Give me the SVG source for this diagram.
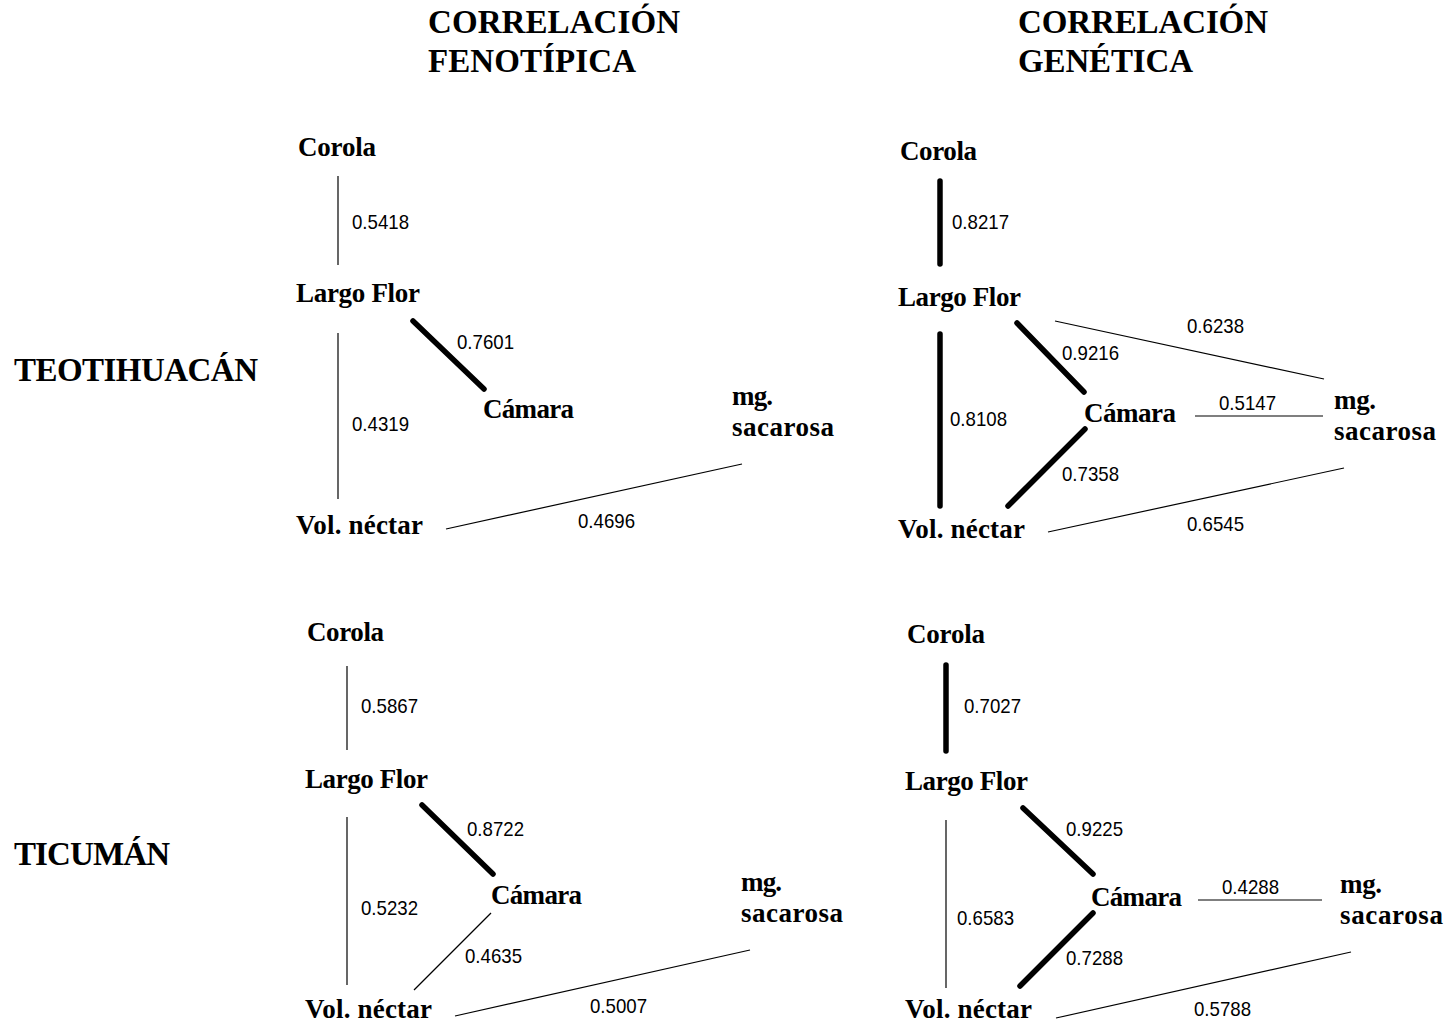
<svg xmlns="http://www.w3.org/2000/svg" width="1449" height="1024" viewBox="0 0 1449 1024">
<style>
.t{font-family:"Liberation Serif","Times New Roman",serif;font-weight:bold;font-size:33px;fill:#000}
.l{font-family:"Liberation Serif","Times New Roman",serif;font-weight:bold;font-size:27px;fill:#000}
.n{font-family:"Liberation Sans",Arial,sans-serif;font-size:21px;fill:#000}
.thin{stroke:#000;stroke-width:1.2;fill:none}
.thick{stroke:#000;stroke-width:5.5;stroke-linecap:round;fill:none}
</style>
<rect width="1449" height="1024" fill="#fff"/>
<g id="titles">
<text class="t" x="428" y="33" textLength="252">CORRELACIÓN</text>
<text class="t" x="428" y="72" textLength="208">FENOTÍPICA</text>
<text class="t" x="1018" y="33" textLength="250">CORRELACIÓN</text>
<text class="t" x="1018" y="72" textLength="175">GENÉTICA</text>
<text class="t" x="14" y="381" textLength="244">TEOTIHUACÁN</text>
<text class="t" x="14" y="865" textLength="156">TICUMÁN</text>
</g>
<g id="connectors">
<line class="thin" x1="338" y1="176" x2="338" y2="265"/>
<line class="thin" x1="338" y1="333" x2="338" y2="499"/>
<line class="thick" x1="413" y1="321" x2="484" y2="389"/>
<line class="thin" x1="446" y1="529" x2="742" y2="464"/>
<line class="thick" x1="940" y1="181" x2="940" y2="264"/>
<line class="thin" x1="1055" y1="321" x2="1324" y2="379"/>
<line class="thick" x1="1017" y1="323" x2="1084" y2="392"/>
<line class="thick" x1="940" y1="334" x2="940" y2="506"/>
<line class="thin" x1="1195" y1="416" x2="1323" y2="416"/>
<line class="thick" x1="1008" y1="506" x2="1085" y2="429"/>
<line class="thin" x1="1048" y1="532" x2="1344" y2="468"/>
<line class="thin" x1="347" y1="666" x2="347" y2="750"/>
<line class="thin" x1="347" y1="817" x2="347" y2="985"/>
<line class="thick" x1="422" y1="805" x2="493" y2="874"/>
<line class="thin" x1="491" y1="913" x2="414" y2="990"/>
<line class="thin" x1="455" y1="1016" x2="750" y2="950"/>
<line class="thick" x1="946" y1="665" x2="946" y2="751"/>
<line class="thin" x1="946" y1="820" x2="946" y2="988"/>
<line class="thick" x1="1023" y1="808" x2="1093" y2="874"/>
<line class="thin" x1="1198" y1="900" x2="1322" y2="900"/>
<line class="thick" x1="1093" y1="913" x2="1020" y2="986"/>
<line class="thin" x1="1056" y1="1018" x2="1351" y2="952"/>
</g>
<g id="edge-labels">
<text class="n" x="352" y="229" textLength="57" lengthAdjust="spacingAndGlyphs">0.5418</text>
<text class="n" x="352" y="431" textLength="57" lengthAdjust="spacingAndGlyphs">0.4319</text>
<text class="n" x="457" y="349" textLength="57" lengthAdjust="spacingAndGlyphs">0.7601</text>
<text class="n" x="578" y="528" textLength="57" lengthAdjust="spacingAndGlyphs">0.4696</text>
<text class="n" x="952" y="229" textLength="57" lengthAdjust="spacingAndGlyphs">0.8217</text>
<text class="n" x="1187" y="333" textLength="57" lengthAdjust="spacingAndGlyphs">0.6238</text>
<text class="n" x="1062" y="360" textLength="57" lengthAdjust="spacingAndGlyphs">0.9216</text>
<text class="n" x="950" y="426" textLength="57" lengthAdjust="spacingAndGlyphs">0.8108</text>
<text class="n" x="1219" y="410" textLength="57" lengthAdjust="spacingAndGlyphs">0.5147</text>
<text class="n" x="1062" y="481" textLength="57" lengthAdjust="spacingAndGlyphs">0.7358</text>
<text class="n" x="1187" y="531" textLength="57" lengthAdjust="spacingAndGlyphs">0.6545</text>
<text class="n" x="361" y="713" textLength="57" lengthAdjust="spacingAndGlyphs">0.5867</text>
<text class="n" x="361" y="915" textLength="57" lengthAdjust="spacingAndGlyphs">0.5232</text>
<text class="n" x="467" y="836" textLength="57" lengthAdjust="spacingAndGlyphs">0.8722</text>
<text class="n" x="465" y="963" textLength="57" lengthAdjust="spacingAndGlyphs">0.4635</text>
<text class="n" x="590" y="1013" textLength="57" lengthAdjust="spacingAndGlyphs">0.5007</text>
<text class="n" x="964" y="713" textLength="57" lengthAdjust="spacingAndGlyphs">0.7027</text>
<text class="n" x="957" y="925" textLength="57" lengthAdjust="spacingAndGlyphs">0.6583</text>
<text class="n" x="1066" y="836" textLength="57" lengthAdjust="spacingAndGlyphs">0.9225</text>
<text class="n" x="1222" y="894" textLength="57" lengthAdjust="spacingAndGlyphs">0.4288</text>
<text class="n" x="1066" y="965" textLength="57" lengthAdjust="spacingAndGlyphs">0.7288</text>
<text class="n" x="1194" y="1016" textLength="57" lengthAdjust="spacingAndGlyphs">0.5788</text>
</g>
<g id="tl-corola"><text class="l" x="298" y="156" textLength="78">Corola</text></g>
<g id="tl-largo"><text class="l" x="296" y="302" textLength="124">Largo Flor</text></g>
<g id="tl-camara"><text class="l" x="483" y="418" textLength="91">Cámara</text></g>
<g id="tl-mg"><text class="l" x="732" y="405" textLength="41">mg.</text><text class="l" x="732" y="436" textLength="102">sacarosa</text></g>
<g id="tl-vol"><text class="l" x="296" y="534" textLength="127">Vol. néctar</text></g>
<g id="tr-corola"><text class="l" x="900" y="160" textLength="77">Corola</text></g>
<g id="tr-largo"><text class="l" x="898" y="306" textLength="123">Largo Flor</text></g>
<g id="tr-camara"><text class="l" x="1084" y="422" textLength="92">Cámara</text></g>
<g id="tr-mg"><text class="l" x="1334" y="409" textLength="42">mg.</text><text class="l" x="1334" y="440" textLength="102">sacarosa</text></g>
<g id="tr-vol"><text class="l" x="898" y="538" textLength="127">Vol. néctar</text></g>
<g id="bl-corola"><text class="l" x="307" y="641" textLength="77">Corola</text></g>
<g id="bl-largo"><text class="l" x="305" y="788" textLength="123">Largo Flor</text></g>
<g id="bl-camara"><text class="l" x="491" y="904" textLength="91">Cámara</text></g>
<g id="bl-mg"><text class="l" x="741" y="891" textLength="41">mg.</text><text class="l" x="741" y="922" textLength="102">sacarosa</text></g>
<g id="bl-vol"><text class="l" x="305" y="1018" textLength="127">Vol. néctar</text></g>
<g id="br-corola"><text class="l" x="907" y="643" textLength="78">Corola</text></g>
<g id="br-largo"><text class="l" x="905" y="790" textLength="123">Largo Flor</text></g>
<g id="br-camara"><text class="l" x="1091" y="906" textLength="91">Cámara</text></g>
<g id="br-mg"><text class="l" x="1340" y="893" textLength="42">mg.</text><text class="l" x="1340" y="924" textLength="103">sacarosa</text></g>
<g id="br-vol"><text class="l" x="905" y="1018" textLength="127">Vol. néctar</text></g>
</svg>
